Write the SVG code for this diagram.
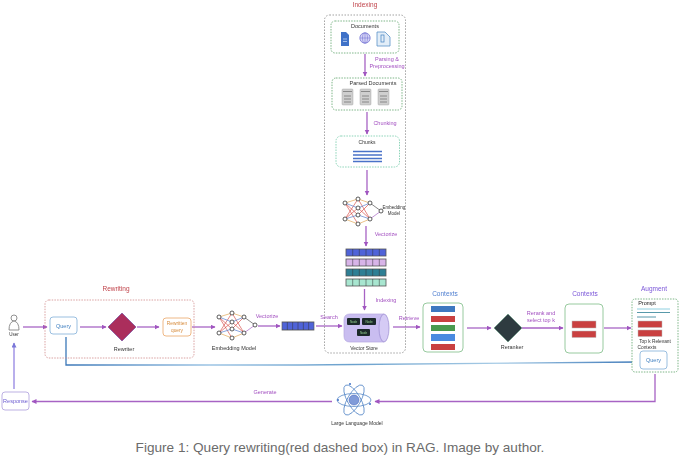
<svg xmlns="http://www.w3.org/2000/svg" xmlns:xlink="http://www.w3.org/1999/xlink" width="680" height="458" viewBox="0 0 680 458">
<style>
text{font-family:"Liberation Sans",Arial,sans-serif;font-size:5.5px;text-anchor:middle;fill:#333}
.rd{fill:#c0434a;font-size:6.5px}
.pu{fill:#a24fc0;font-size:5.5px}
.vi{fill:#7a55d8;font-size:6.5px}
.bl{fill:#3f7fc0}
.cap{font-size:13.6px;fill:#6b6b6b}
.c{fill:none;stroke:#a763c4;stroke-width:1.3;marker-end:url(#a)}
.box{fill:#fff;stroke-width:.9}
.gd{stroke:#6fae7a;stroke-dasharray:1.5 1.2}
.red{fill:#c9403f;stroke:#bbb;stroke-width:.5}
.sheet{fill:#cfcfcf;stroke:#999;stroke-width:.4}
.nn{stroke-width:.7;fill:none}
.nd{fill:#fff;stroke:#333;stroke-width:.8}
</style>
<defs>
<marker id="a" markerWidth="6" markerHeight="6" refX="4.5" refY="2.5" orient="auto" markerUnits="userSpaceOnUse"><path d="M0 0L5 2.500L0 5z" fill="#a054c0"/></marker>
<marker id="b" markerWidth="6" markerHeight="6" refX="4.500" refY="2.500" orient="auto" markerUnits="userSpaceOnUse"><path d="M0 0L5 2.500L0 5z" fill="#7a78d8"/></marker>
<linearGradient id="bg" gradientUnits="userSpaceOnUse" x1="66" y1="0" x2="640" y2="0"><stop offset="0" stop-color="#3c78b8"/><stop offset=".25" stop-color="#9cc4e4"/><stop offset=".5" stop-color="#6aa0cc"/><stop offset=".75" stop-color="#a8cce6"/><stop offset="1" stop-color="#3c78b8"/></linearGradient>
<filter id="s" x="-2%" y="-2%" width="104%" height="104%"><feGaussianBlur stdDeviation=".3"/></filter>
<g id="net">
<g class="nn">
<path stroke="#d9534f" d="M219 317L232 338M219 317L232 329M219 333L232 313M219 333L232 322M232 313L244 333M232 322L244 333M232 329L244 317"/>
<path stroke="#e3a857" d="M232 313L244 317M219 317L232 313M232 338L244 333M219 333L232 338"/>
<path stroke="#5a7fd0" d="M232 329L244 333M232 322L244 317M219 317L232 322M219 333L232 329"/>
<path stroke="#555" d="M244 317L255 325"/>
<path stroke="#a763c4" d="M244 333L255 325"/>
</g>
<g class="nd"><circle cx="219" cy="317" r="2"/><circle cx="232" cy="313" r="2"/><circle cx="244" cy="317" r="2"/><circle cx="232" cy="322" r="2"/><circle cx="219" cy="333" r="2"/><circle cx="232" cy="329" r="2"/><circle cx="244" cy="333" r="2"/><circle cx="232" cy="338" r="2"/><circle cx="255" cy="325" r="2"/></g>
</g>
<g id="sheet"><rect class="sheet" width="11" height="16" rx="1"/><path d="M1 2.500H10M2 7H9M2 10H9M2 13H9" stroke="#777" stroke-width=".8"/></g>
<g id="vec"><rect width="40" height="7" stroke="#555" stroke-width=".8"/><path d="M6.700 0v7M13.300 0v7M20 0v7M26.700 0v7M33.300 0v7" stroke="#333" stroke-width=".5"/></g>
</defs>
<rect width="680" height="458" fill="#fff"/>
<g filter="url(#s)">
<g id="connectors">
<path class="c" d="M365 54V76"/>
<path class="c" d="M367 112V134"/>
<path class="c" d="M367 170V195"/>
<path class="c" d="M366 226V246"/>
<path class="c" d="M364.500 289V310"/>
<path class="c" d="M23 327H47"/>
<path class="c" d="M80 327H106"/>
<path class="c" d="M137 327H159"/>
<path class="c" d="M192 327H215"/>
<path class="c" d="M258 326H280"/>
<path class="c" d="M316 326H342"/>
<path class="c" d="M393 327H420"/>
<path class="c" d="M467 328H491"/>
<path class="c" d="M522 328H563"/>
<path class="c" d="M604 328H631"/>
<path d="M66 337V365L300 365L639 362" fill="none" stroke="url(#bg)" stroke-width="1.300"/>
<path d="M634 360L639 362L634 364z" fill="#3c78b8"/>
<path class="c" d="M655 374V401.500H375"/>
<path class="c" d="M332 401.500H32"/>
<path d="M14 389V343" fill="none" stroke="#8a7adf" stroke-width="1.200" marker-end="url(#b)"/>
</g>
<g id="indexing"><rect x="324.500" y="15" width="81" height="338" rx="5" fill="none" stroke="#8a8a8a" stroke-width=".8" stroke-dasharray="1.500 1.500"/><text class="rd" x="365" y="7">Indexing</text></g>
<g id="documents"><rect class="box gd" x="331" y="21" width="68" height="32" rx="4"/><text x="365" y="28">Documents</text>
<path d="M341 32H346L349 35V46H341z" fill="#3f72c8"/><path d="M343 39H347M343 41.500H347" stroke="#cfe0f7" stroke-width=".7"/>
<circle cx="365" cy="38" r="5.200" fill="#d5d3f5" stroke="#6a6ad0" stroke-width=".7"/><path d="M360 38H370M365 33V43" stroke="#6a6ad0" stroke-width=".5"/><ellipse cx="365" cy="38" rx="2.500" ry="5.200" fill="none" stroke="#6a6ad0" stroke-width=".5"/>
<path d="M377 32H385L390 37V46H377z" fill="#e3eef8" stroke="#5b93c8" stroke-width=".8"/><rect x="381" y="35" width="3" height="7" fill="none" stroke="#3f7fc0" stroke-width=".7"/></g>
<g id="parsed"><rect class="box gd" x="332" y="78" width="70" height="32" rx="4"/><text x="373" y="85">Parsed Documents</text>
<use xlink:href="#sheet" href="#sheet" x="342" y="89"/><use xlink:href="#sheet" href="#sheet" x="360" y="89"/><use xlink:href="#sheet" href="#sheet" x="378" y="89"/></g>
<g id="chunks"><rect class="box" x="336" y="136" width="63.500" height="31" rx="5" stroke="#7fcfb0" stroke-dasharray="1.500 1.200"/><text x="367" y="144" style="font-size:5px">Chunks</text>
<path d="M353 151.500H382M353 155H382M353 158.500H382M353 161.500H382" stroke="#4a72c8" stroke-width="1.500"/></g>
<g id="embedding2"><use xlink:href="#net" href="#net" x="126" y="-114"/><text x="394" y="209" style="font-size:4.500px">Embedding</text><text x="394" y="214.500" style="font-size:4.500px">Model</text></g>
<g id="vectors">
<use xlink:href="#vec" href="#vec" x="346" y="249" fill="#4f63d8"/>
<use xlink:href="#vec" href="#vec" x="346" y="259" fill="#d8b4e8"/>
<use xlink:href="#vec" href="#vec" x="346" y="269" fill="#2f7f94"/>
<use xlink:href="#vec" href="#vec" x="346" y="279" fill="#a8e6d0"/></g>
<g id="store"><path d="M350 314H384V342H350Q344 342 344 336V320Q344 314 350 314z" fill="#c9bdf0" stroke="#b5a8e0" stroke-width=".7"/><ellipse cx="384" cy="328" rx="5" ry="14" fill="#d5cbf5" stroke="#9a8ad0" stroke-width=".7"/>
<rect x="347" y="318" width="13" height="7" rx="1" fill="#1f2a2a"/><rect x="362" y="318" width="14" height="7" rx="1" fill="#1f2a2a"/><rect x="357" y="329" width="13" height="7" rx="1" fill="#1f2a2a"/>
<text x="353.500" y="323" style="font-size:3px;fill:#8fd08f">Node</text><text x="369" y="323" style="font-size:3px;fill:#8fd08f">Node</text><text x="363.500" y="334" style="font-size:3px;fill:#8fd08f">Node</text>
<text x="364" y="349.500" style="font-size:5px">Vector Store</text></g>
<g id="user"><circle cx="14" cy="318" r="3" fill="#fff" stroke="#777" stroke-width=".8"/><path d="M9 330Q9 322 14 321Q19 322 19 330z" fill="#fff" stroke="#777" stroke-width=".8"/><text x="14" y="336" style="font-size:4.500px">User</text></g>
<g id="rewriting"><rect x="45" y="300" width="149" height="58" rx="4" fill="none" stroke="#d08a8a" stroke-width=".8" stroke-dasharray="1.500 1.200"/><text class="rd" x="116" y="291">Rewriting</text></g>
<g id="query"><rect class="box" x="50" y="317" width="27" height="17" rx="3" stroke="#8fb8dc"/><text class="bl" x="63.500" y="327.500">Query</text></g>
<g id="rewriter"><path d="M122 313L136 327L122 341L108 327z" fill="#ab2f5c" stroke="#6a3fa0" stroke-width=".6"/><text x="124" y="351">Rewriter</text></g>
<g id="rewrite"><rect class="box" x="163" y="318" width="28" height="18" rx="3" stroke="#ecb078"/><text x="177" y="325" style="fill:#d68a3a;font-size:4.800px">Rewritten</text><text x="177" y="332" style="fill:#d68a3a;font-size:4.800px">query</text></g>
<g id="embedding"><use xlink:href="#net" href="#net"/><text x="234" y="350" style="font-size:5.500px">Embedding Model</text></g>
<g id="qvec"><use xlink:href="#vec" href="#vec" transform="translate(282 322) scale(.8 1.140)" fill="#4f63d8"/></g>
<g id="labels">
<text class="pu" x="387" y="61">Parsing  &amp;</text><text class="pu" x="387" y="68">Preprocessing</text>
<text class="pu" x="385" y="125">Chunking</text>
<text class="pu" x="386" y="236">Vectorize</text>
<text class="pu" x="386" y="302">Indexing</text>
<text class="pu" x="267" y="318">Vectorize</text>
<text class="pu" x="329" y="319">Search</text>
<text class="pu" x="409" y="319.500">Retrieve</text>
<text class="pu" x="541" y="315">Rerank and</text><text class="pu" x="541" y="322">select top k</text>
<text class="pu" x="265" y="394">Generate</text>
</g>
<g id="contexts"><rect class="box" x="423" y="303" width="40" height="49" rx="4" stroke="#8cc494" stroke-width="1.200"/><text class="vi" x="445" y="296" style="fill:#4f7fd0">Contexts</text>
<rect x="431" y="306" width="24" height="6" fill="#3c78c0"/><rect x="431" y="316" width="24" height="6" fill="#c9403f"/><rect x="431" y="325" width="24" height="6" fill="#4a9a50"/><rect x="431" y="334" width="24" height="7" fill="#4a8ae0"/><rect x="431" y="344" width="24" height="6" fill="#c9403f"/></g>
<g id="reranker"><path d="M508 314L522 328L508 342L494 328z" fill="#2f3a40" stroke="#5a9a7a" stroke-width=".5"/><text x="512" y="348.500">Reranker</text></g>
<g id="contexts2"><rect class="box" x="565" y="304" width="38" height="49" rx="4" stroke="#8cc494" stroke-width="1.200"/><text class="vi" x="585" y="296">Contexts</text><rect class="red" x="572" y="321" width="24" height="7"/><rect class="red" x="572" y="331" width="24" height="6.500"/></g>
<g id="augment"><rect class="box gd" x="632" y="299" width="46" height="73" rx="3"/><text class="vi" x="654" y="291">Augment</text><text x="647" y="305" style="font-size:5.500px;fill:#222">Prompt</text>
<path d="M637 309H670" stroke="#8fd0e0" stroke-width="1"/><path d="M637 312.500H670" stroke="#2f7f94" stroke-width=".8"/><path d="M637 317H656" stroke="#2f7f94" stroke-width=".8"/>
<rect class="red" x="638" y="321" width="24" height="6.500"/><rect class="red" x="638" y="330" width="24" height="6.500"/>
<text x="655" y="343" style="font-size:4.800px">Top k Relevant</text><text x="647" y="349" style="font-size:4.800px">Contexts</text>
<rect class="box" x="640" y="351" width="27" height="18" rx="3" stroke="#8fb8dc"/><text class="bl" x="653.500" y="361.500">Query</text></g>
<g id="llm"><g fill="none" stroke="#5a8ac8" stroke-width=".8"><ellipse cx="354" cy="400" rx="17" ry="6.500"/><ellipse cx="354" cy="400" rx="17" ry="6.500" transform="rotate(60 354 400)"/><ellipse cx="354" cy="400" rx="17" ry="6.500" transform="rotate(120 354 400)"/></g><circle cx="354" cy="400" r="5" fill="#7f9ad8" stroke="#4a6ac0" stroke-width=".6"/><circle cx="338" cy="400" r="1" fill="#3f72c8"/><circle cx="370" cy="404" r="1" fill="#3f72c8"/><circle cx="350" cy="384" r="1" fill="#3f72c8"/><text x="357" y="425" style="font-size:5px">Large Language Model</text></g>
<g id="response"><rect class="box" x="2" y="392" width="27" height="18" rx="3" stroke="#b5a8e0"/><text x="15.500" y="403" style="fill:#6a5ad0">Response</text></g>
</g>
<text class="cap" x="340" y="452">Figure 1: Query rewriting(red dashed box) in RAG. Image by author.</text>
</svg>
